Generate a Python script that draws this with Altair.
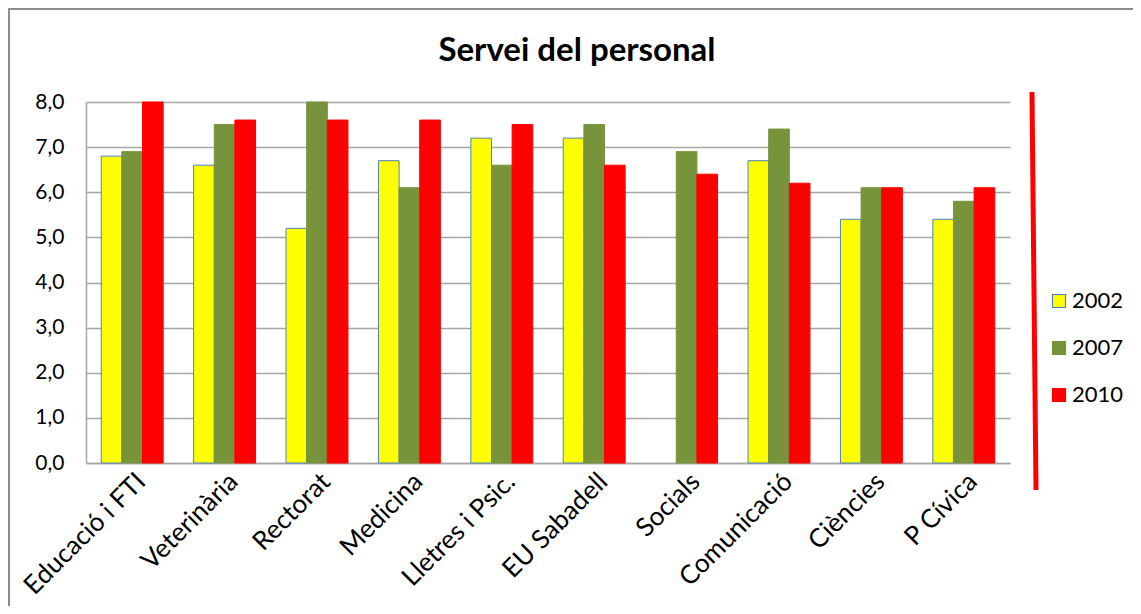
import altair as alt
import pandas as pd

categories = ["Educació i FTI", "Veterinària", "Rectorat", "Medicina", "Lletres i Psic.",
              "EU Sabadell", "Socials", "Comunicació", "Ciències", "P Cívica"]
years = ["2002", "2007", "2010"]
v2002 = [6.8, 6.6, 5.2, 6.7, 7.2, 7.2, None, 6.7, 5.4, 5.4]
v2007 = [6.9, 7.5, 8.0, 6.1, 6.6, 7.5, 6.9, 7.4, 6.1, 5.8]
v2010 = [8.0, 7.6, 7.6, 7.6, 7.5, 6.6, 6.4, 6.2, 6.1, 6.1]
fills = ["#FFFF00", "#77933C", "#FF0000"]
strokes = ["#4F81BD", "#77933C", "#FF0000"]
title_text = "Servei del personal"

rows = []
for yr, vals in zip(years, [v2002, v2007, v2010]):
    for c, v in zip(categories, vals):
        if v is not None:
            rows.append({"Facultat": c, "Any": yr, "Valor": v})
df = pd.DataFrame(rows)

FONT = "Lato"

leg = dict(title=None, orient="none", legendX=962, legendY=188,
           symbolType="square", symbolSize=169, symbolStrokeWidth=1.2,
           labelFont=FONT, labelFontSize=22, labelColor="#000000",
           rowPadding=25, labelOffset=2, padding=0)

bars = alt.Chart(df).mark_bar(strokeWidth=1).encode(
    x=alt.X("Facultat:N", sort=categories, title=None,
            scale=alt.Scale(paddingInner=0.33, paddingOuter=0.165),
            axis=alt.Axis(labelAngle=-45, labelFont=FONT, labelFontSize=26,
                          labelColor="#000000", ticks=False, domainColor="#A6A6A6",
                          domainWidth=1.5, labelPadding=5, labelLimit=300)),
    xOffset=alt.XOffset("Any:N", sort=years, scale=alt.Scale(paddingInner=0, paddingOuter=0)),
    y=alt.Y("Valor:Q", title=None,
            scale=alt.Scale(domain=[0, 8], nice=False),
            axis=alt.Axis(values=[0, 1, 2, 3, 4, 5, 6, 7, 8],
                          labelExpr="replace(format(datum.value, '.1f'), '.', ',')",
                          labelFont=FONT, labelFontSize=21, labelColor="#000000",
                          ticks=False, domainColor="#A6A6A6", domainWidth=1.5,
                          gridColor="#A6A6A6", gridWidth=1.5, labelPadding=22)),
    color=alt.Color("Any:N", sort=years, scale=alt.Scale(domain=years, range=fills),
                    legend=alt.Legend(**leg)),
    stroke=alt.Stroke("Any:N", sort=years, scale=alt.Scale(domain=years, range=strokes),
                      legend=alt.Legend(**leg)),
)

deco = alt.Data(values=[{"t": title_text}])

border = alt.Chart(deco).mark_rect(fill="transparent", stroke="#8C8C8C", strokeWidth=2).encode(
    x=alt.value(-77), x2=alt.value(1300), y=alt.value(-93), y2=alt.value(800)
)

redline = alt.Chart(deco).mark_rule(color="#FF0000", strokeWidth=5).encode(
    x=alt.value(946), x2=alt.value(950), y=alt.value(-10), y2=alt.value(388)
)

title = alt.Chart(deco).mark_text(font=FONT, fontSize=33, fontWeight="bold", color="#000000",
                                  align="center", baseline="alphabetic").encode(
    x=alt.value(491), y=alt.value(-41), text="t:N"
)

chart = alt.layer(border, bars, redline, title).properties(
    width=924, height=361,
    autosize=alt.AutoSizeParams(type="none"),
    padding={"left": 78, "top": 94, "right": 123, "bottom": 143},
).configure_view(stroke=None)

chart.save("out.html", embed_options={"renderer": "svg", "actions": False})
